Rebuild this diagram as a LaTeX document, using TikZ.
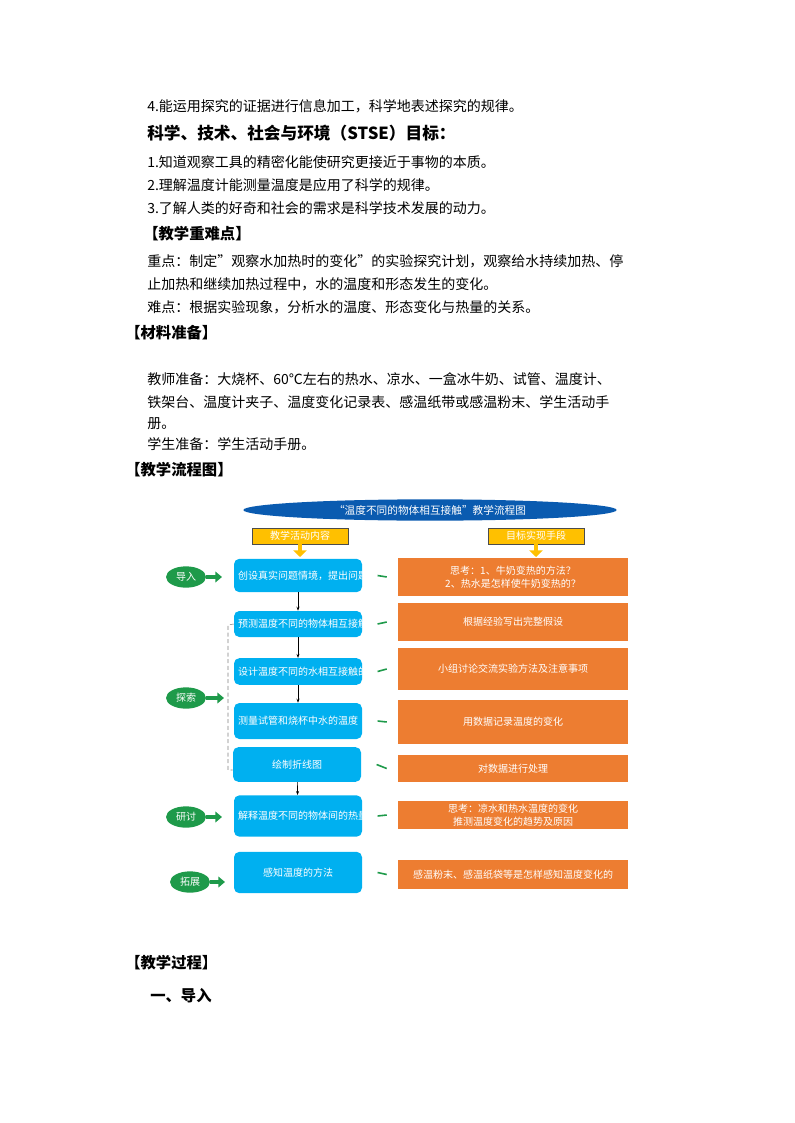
\documentclass[tikz,border=0pt]{standalone}
\usepackage{fontspec}
\setmainfont{Noto Sans CJK SC}
\newfontfamily\cjkb[BoldFont={* Bold}]{Noto Sans CJK SC}
\usetikzlibrary{shapes.geometric,arrows.meta}
\definecolor{cblue}{HTML}{00B0F0}
\definecolor{corange}{HTML}{ED7D31}
\definecolor{cgreen}{HTML}{1E9A4A}
\definecolor{cdark}{HTML}{0A5BB0}
\definecolor{cyel}{HTML}{FFC000}
\tikzset{
 body/.style={anchor=west,inner sep=0,font=\fontsize{10.5}{12}\selectfont},
 head/.style={anchor=west,inner sep=0,font=\fontsize{11.5}{13}\selectfont\bfseries},
 bbox/.style={fill=cblue,rounded corners=4pt,text=white,align=center,inner sep=1pt,font=\fontsize{7.5}{9.5}\selectfont},
 obox/.style={fill=corange,text=white,align=center,inner sep=1pt,font=\fontsize{7.5}{9.5}\selectfont},
 ybox/.style={fill=cyel,draw=black!70,line width=0.4pt,text=white,inner sep=1pt,font=\fontsize{7.5}{9}\selectfont},
 gell/.style={ellipse,fill=cgreen,text=white,minimum width=30pt,minimum height=16pt,inner sep=0,font=\fontsize{7.5}{9}\selectfont},
 garr/.style={cgreen,line width=3pt,-{Triangle[length=5pt,width=8pt]}},
 gdash/.style={cgreen,line width=1.2pt},
 darr/.style={-{Stealth[length=3pt]},line width=0.5pt},
}
\begin{document}
\begin{tikzpicture}[x=0.75pt,y=-0.75pt]
\useasboundingbox (0,0) rectangle (794,1123);
\node[body] (t1) at (147,106) {4.能运用探究的证据进行信息加工，科学地表述探究的规律。};
\node[head,font=\fontsize{12.5}{14}\selectfont\bfseries] (t2) at (147,133) {科学、技术、社会与环境（STSE）目标：};
\node[body] (t3) at (147,162) {1.知道观察工具的精密化能使研究更接近于事物的本质。};
\node[body] (t4) at (147,185) {2.理解温度计能测量温度是应用了科学的规律。};
\node[body] (t5) at (147,208) {3.了解人类的好奇和社会的需求是科学技术发展的动力。};
\node[head] (t6) at (143,234) {【教学重难点】};
\node[body] (t7) at (147,261) {重点：制定"观察水加热时的变化"的实验探究计划，观察给水持续加热、停};
\node[body] (t8) at (147,284) {止加热和继续加热过程中，水的温度和形态发生的变化。};
\node[body] (t9) at (147,307) {难点：根据实验现象，分析水的温度、形态变化与热量的关系。};
\node[head] (t10) at (125,333) {【材料准备】};
\node[body] (t11) at (147,379) {教师准备：大烧杯、60℃左右的热水、凉水、一盒冰牛奶、试管、温度计、};
\node[body] (t12) at (147,402) {铁架台、温度计夹子、温度变化记录表、感温纸带或感温粉末、学生活动手};
\node[body] (t13) at (147,424) {册。};
\node[body] (t14) at (147,444) {学生准备：学生活动手册。};
\node[head] (t15) at (125,470) {【教学流程图】};
\node[head] (t16) at (125,963) {【教学过程】};
\node[head] (t17) at (150,996) {一、导入};

% title
\node[ellipse,fill=cdark,text=white,minimum width=280pt,minimum height=16pt,inner sep=0,font=\fontsize{8}{9}\selectfont] (title) at (430,510) {“温度不同的物体相互接触”教学流程图};
\node[ybox,minimum width=72pt,minimum height=12pt] (ya) at (300,536) {教学活动内容};
\node[ybox,minimum width=72pt,minimum height=12pt] (yb) at (536,536) {目标实现手段};
\coordinate (ya2) at (300,557);
\coordinate (yb2) at (536,557);
\draw[cyel,line width=3pt,-{Triangle[length=5pt,width=10pt]}] (ya.south) -- (ya2);
\draw[cyel,line width=3pt,-{Triangle[length=5pt,width=10pt]}] (yb.south) -- (yb2);

% blue boxes
\def\bw{96pt}
\node[bbox,minimum width=\bw,text width=90pt,minimum height=25pt] (b1) at (298,575.5) {创设真实问题情境，提出问题};
\node[bbox,minimum width=\bw,text width=90pt,minimum height=19.5pt] (b2) at (298,624) {预测温度不同的物体相互接触后的温度变化};
\node[bbox,minimum width=\bw,text width=90pt,minimum height=20pt] (b3) at (298,671.5) {设计温度不同的水相互接触的实验};
\node[bbox,minimum width=\bw,text width=90pt,minimum height=27pt] (b4) at (298,721) {测量试管和烧杯中水的温度};
\node[bbox,minimum width=\bw,text width=90pt,minimum height=26pt] (b5) at (297,764.5) {绘制折线图};
\node[bbox,minimum width=\bw,text width=90pt,minimum height=31pt] (b6) at (298,816) {解释温度不同的物体间的热量传递};
\node[bbox,minimum width=\bw,text width=90pt,minimum height=31pt] (b7) at (298,872.5) {感知温度的方法};
\foreach \a/\b in {b1/b2,b2/b3,b3/b4,b5/b6} \draw[darr] (\a) -- (\b);

% orange boxes
\def\ow{172pt}
\node[obox,minimum width=\ow,minimum height=28.5pt] (o1) at (513,577) {思考：1、牛奶变热的方法？\\2、热水是怎样使牛奶变热的？};
\node[obox,minimum width=\ow,minimum height=28.5pt] (o2) at (513,622) {根据经验写出完整假设};
\node[obox,minimum width=\ow,minimum height=31.5pt] (o3) at (513,669) {小组讨论交流实验方法及注意事项};
\node[obox,minimum width=\ow,minimum height=33pt] (o4) at (513,722) {用数据记录温度的变化};
\node[obox,minimum width=\ow,minimum height=20pt] (o5) at (513,768.5) {对数据进行处理};
\node[obox,minimum width=\ow,minimum height=21pt] (o6) at (513,815) {思考：凉水和热水温度的变化\\推测温度变化的趋势及原因};
\node[obox,minimum width=\ow,minimum height=22pt] (o7) at (513,874.5) {感温粉末、感温纸袋等是怎样感知温度变化的};
\foreach \i in {1,...,7} {
 \draw[gdash] ([xshift=11.5pt]b\i.east) -- ([xshift=-8.5pt]o\i.west);
}

% left stages
\node[gell] (g1) at (186,577) {导入};
\node[gell] (g2) at (186,698) {探索};
\node[gell] (g3) at (186,817) {研讨};
\node[gell] (g4) at (190,882) {拓展};
\coordinate (g1e) at (222,577);
\coordinate (g2e) at (224,698);
\coordinate (g3e) at (222,817);
\coordinate (g4e) at (225,882);
\foreach \i in {1,...,4} \draw[garr] (g\i.east) -- (g\i e);
\draw[densely dashed,gray,line width=0.4pt] (b2.west) -- (228,625) -- (228,770) -- (b5.west |- 0,770);
\end{tikzpicture}
\end{document}
